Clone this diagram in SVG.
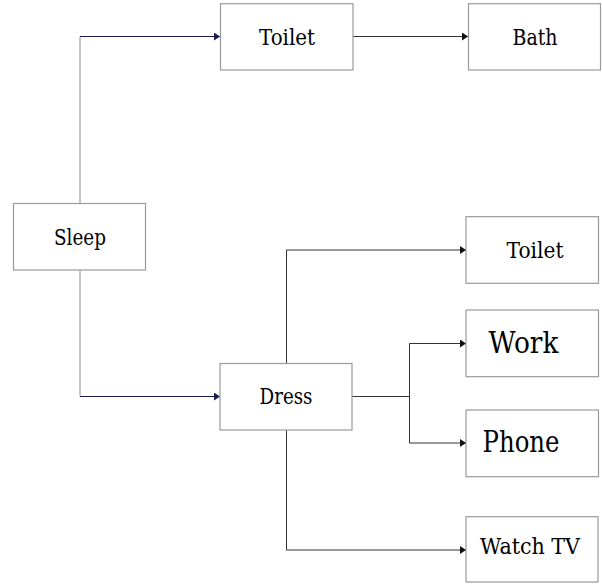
<svg xmlns="http://www.w3.org/2000/svg" width="602" height="586" viewBox="0 0 602 586">
<defs>
<style>
.box{fill:#fff;stroke:#9a9a9a;stroke-width:1.2}
text{font-family:'DejaVu Serif','Liberation Serif','Times New Roman',serif;font-size:22px;fill:#000;text-anchor:middle}
.big{font-size:30px}
.c{fill:none;stroke:#333;stroke-width:1}
.n{fill:none;stroke:#1c1c50;stroke-width:1}
.nv{fill:none;stroke:#8a8aa8;stroke-width:1}
</style>
<marker id="ak" markerWidth="6" markerHeight="8" refX="6" refY="4" orient="auto" markerUnits="userSpaceOnUse"><path d="M0,0 L6,4 L0,8 Z" fill="#111"/></marker>
<marker id="an" markerWidth="6" markerHeight="8" refX="6" refY="4" orient="auto" markerUnits="userSpaceOnUse"><path d="M0,0 L6,4 L0,8 Z" fill="#1c1c50"/></marker>
</defs>
<rect width="602" height="586" fill="#fff"/>
<g id="connectors">
<path class="nv" d="M80,203 V36.5"/>
<path class="n" d="M80,36.5 H220" marker-end="url(#an)"/>
<path class="nv" d="M80,270 V396.5"/>
<path class="n" d="M80,396.5 H220" marker-end="url(#an)"/>
<path class="c" d="M353,36.5 H468" marker-end="url(#ak)"/>
<path class="c" d="M286.5,363 V250 H466" marker-end="url(#ak)"/>
<path class="c" d="M352,396.5 H409.5"/>
<path class="c" d="M409.5,343.5 V443"/>
<path class="c" d="M409.5,343.5 H466" marker-end="url(#ak)"/>
<path class="c" d="M409.5,443 H466" marker-end="url(#ak)"/>
<path class="c" d="M286.5,430 V550 H466" marker-end="url(#ak)"/>
</g>
<g id="sleep"><rect class="box" x="13.5" y="203.5" width="132" height="66.5"/><text x="80" y="244.5" textLength="52" lengthAdjust="spacingAndGlyphs">Sleep</text></g>
<g id="toilet1"><rect class="box" x="220.5" y="3.7" width="132.5" height="66.3"/><text x="287" y="44.5" textLength="56" lengthAdjust="spacingAndGlyphs">Toilet</text></g>
<g id="bath"><rect class="box" x="468.5" y="3.7" width="132" height="66.3"/><text x="535" y="44.5" textLength="45" lengthAdjust="spacingAndGlyphs">Bath</text></g>
<g id="dress"><rect class="box" x="220" y="363.5" width="132" height="66.5"/><text x="286" y="404" textLength="53" lengthAdjust="spacingAndGlyphs">Dress</text></g>
<g id="toilet2"><rect class="box" x="466" y="216.7" width="132.5" height="66.6"/><text x="535" y="258" textLength="57" lengthAdjust="spacingAndGlyphs">Toilet</text></g>
<g id="work"><rect class="box" x="466" y="310" width="132.5" height="66.7"/><text class="big" x="523.5" y="352.5" textLength="70" lengthAdjust="spacingAndGlyphs">Work</text></g>
<g id="phone"><rect class="box" x="466" y="410" width="132.5" height="66.7"/><text class="big" x="521" y="452" textLength="77" lengthAdjust="spacingAndGlyphs">Phone</text></g>
<g id="watchtv"><rect class="box" x="466" y="516.7" width="132" height="65.3"/><text x="530" y="553.5" textLength="100" lengthAdjust="spacingAndGlyphs">Watch TV</text></g>
</svg>
